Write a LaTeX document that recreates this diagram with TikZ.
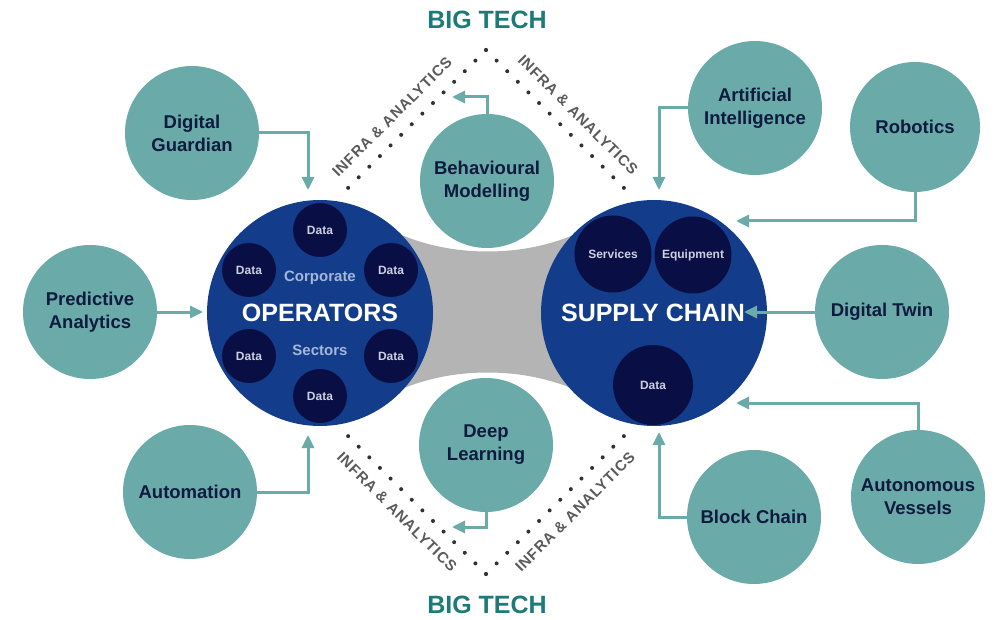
\documentclass[tikz,border=0pt]{standalone}
\usepackage{fontspec}
\setmainfont{Liberation Sans}
\usetikzlibrary{arrows.meta,calc}
\definecolor{bigblue}{RGB}{19,61,138}
\definecolor{navyc}{RGB}{9,15,68}
\definecolor{tealc}{RGB}{106,170,169}
\definecolor{tealdark}{RGB}{28,122,121}
\definecolor{labelc}{RGB}{14,26,62}
\definecolor{bandgray}{RGB}{180,180,180}
\definecolor{dotc}{RGB}{50,50,50}
\definecolor{infrac}{RGB}{90,90,90}
\definecolor{datatxt}{RGB}{205,208,225}
\definecolor{secc}{RGB}{165,182,215}
\begin{document}
\begin{tikzpicture}[x=1pt,y=-1pt,
 tc/.style={circle,fill=tealc,inner sep=0pt,minimum size=134pt,text=labelc,font=\fontsize{18.5}{23}\selectfont\bfseries,align=center},
 bigc/.style={circle,fill=bigblue,inner sep=0pt,minimum size=226pt},
 datacirc/.style={circle,fill=navyc,inner sep=0pt,minimum size=54pt,text=datatxt,font=\fontsize{12}{14}\selectfont\bfseries},
 arr/.style={draw=tealc,line width=3pt,-{Triangle[length=13pt,width=12pt]}},
 dotline/.style={draw=dotc,line width=4pt,line cap=round,dash pattern=on 0pt off 15pt},
 infra/.style={text=infrac,inner sep=0pt,font=\fontsize{15}{16}\selectfont\bfseries\addfontfeatures{LetterSpace=6}},
 bigtxt/.style={text=white,font=\fontsize{25}{28}\selectfont\bfseries},
 subtxt/.style={text=secc,font=\fontsize{15}{18}\selectfont\bfseries},
 bigtech/.style={text=tealdark,font=\fontsize{25}{30}\selectfont\bfseries},
]
\useasboundingbox (0,0) rectangle (995,620);

% gray band
\fill[bandgray] (395,232) .. controls (450,258) and (525,258) .. (580,232) -- (580,392) .. controls (525,366) and (450,366) .. (395,392) -- cycle;

% dotted lines
\coordinate (apT) at (486,50);
\coordinate (apB) at (486,574);
\coordinate (tlE) at (343,193);
\coordinate (trE) at (629,193);
\coordinate (blE) at (343,431);
\coordinate (brE) at (629,431);
\draw[dotline] (apT) -- (tlE);
\draw[dotline] (apT) -- (trE);
\draw[dotline] (apB) -- (blE);
\draw[dotline] (apB) -- (brE);

\node[infra,rotate=45] (itl) at (392,117) {INFRA \& ANALYTICS};
\node[infra,rotate=-45] (itr) at (578,115) {INFRA \& ANALYTICS};
\node[infra,rotate=-45] (ibl) at (397,512) {INFRA \& ANALYTICS};
\node[infra,rotate=45] (ibr) at (575,512) {INFRA \& ANALYTICS};

\node[bigtech] (bt1) at (487,20) {BIG TECH};
\node[bigtech] (bt2) at (487,605) {BIG TECH};

% big circles
\node[bigc] (op) at (320,313) {};
\node[bigc] (sc) at (654,313) {};

\node[datacirc] (d1) at (320,230) {Data};
\node[datacirc] (d2) at (249,270) {Data};
\node[datacirc] (d3) at (391,270) {Data};
\node[datacirc] (d4) at (249,356) {Data};
\node[datacirc] (d5) at (391,356) {Data};
\node[datacirc] (d6) at (320,396) {Data};
\node[subtxt] (corp) at (320,278) {Corporate};
\node[bigtxt] (optx) at (320,313) {OPERATORS};
\node[subtxt] (sect) at (320,350) {Sectors};

\node[datacirc,minimum size=77pt] (sv) at (613,254) {Services};
\node[datacirc,minimum size=77pt] (eq) at (693,255) {Equipment};
\node[datacirc,minimum size=80pt] (sd) at (653,385) {Data};
\node[bigtxt] (sctx) at (653,313) {SUPPLY CHAIN};

% teal circles
\node[tc] (dg) at (192,133) {Digital\\Guardian};
\node[tc] (pa) at (90,312) {Predictive\\Analytics};
\node[tc] (au) at (190,492) {Automation};
\node[tc] (bm) at (487,181) {Behavioural\\Modelling};
\node[tc] (dl) at (486,445) {Deep\\Learning};
\node[tc] (ai) at (755,108) {Artificial\\Intelligence};
\node[tc,minimum size=130pt] (ro) at (915,127) {Robotics};
\node[tc] (dt) at (882,312) {Digital Twin};
\node[tc] (av) at (918,497) {Autonomous\\Vessels};
\node[tc] (bc) at (754,517) {Block Chain};

% arrow tips
\coordinate (dgT) at (308,190);
\coordinate (paT) at (203,312);
\coordinate (auT) at (308,435);
\coordinate (bmT) at (452,97);
\coordinate (dlT) at (452,527);
\coordinate (aiT) at (659,190);
\coordinate (roT) at (736,221);
\coordinate (dtT) at (744,312);
\coordinate (avT) at (736,403);
\coordinate (bcT) at (659,432);

\draw[arr] (dg.east) -| (dgT);
\draw[arr] (pa.east) -- (paT);
\draw[arr] (au.east) -| (auT);
\draw[arr] (bm.north) |- (bmT);
\draw[arr] (dl.south) |- (dlT);
\draw[arr] (ai.west) -| (aiT);
\draw[arr] (ro.south) |- (roT);
\draw[arr] (dt.west) -- (dtT);
\draw[arr] (av.north) |- (avT);
\draw[arr] (bc.west) -| (bcT);
\end{tikzpicture}
\end{document}
